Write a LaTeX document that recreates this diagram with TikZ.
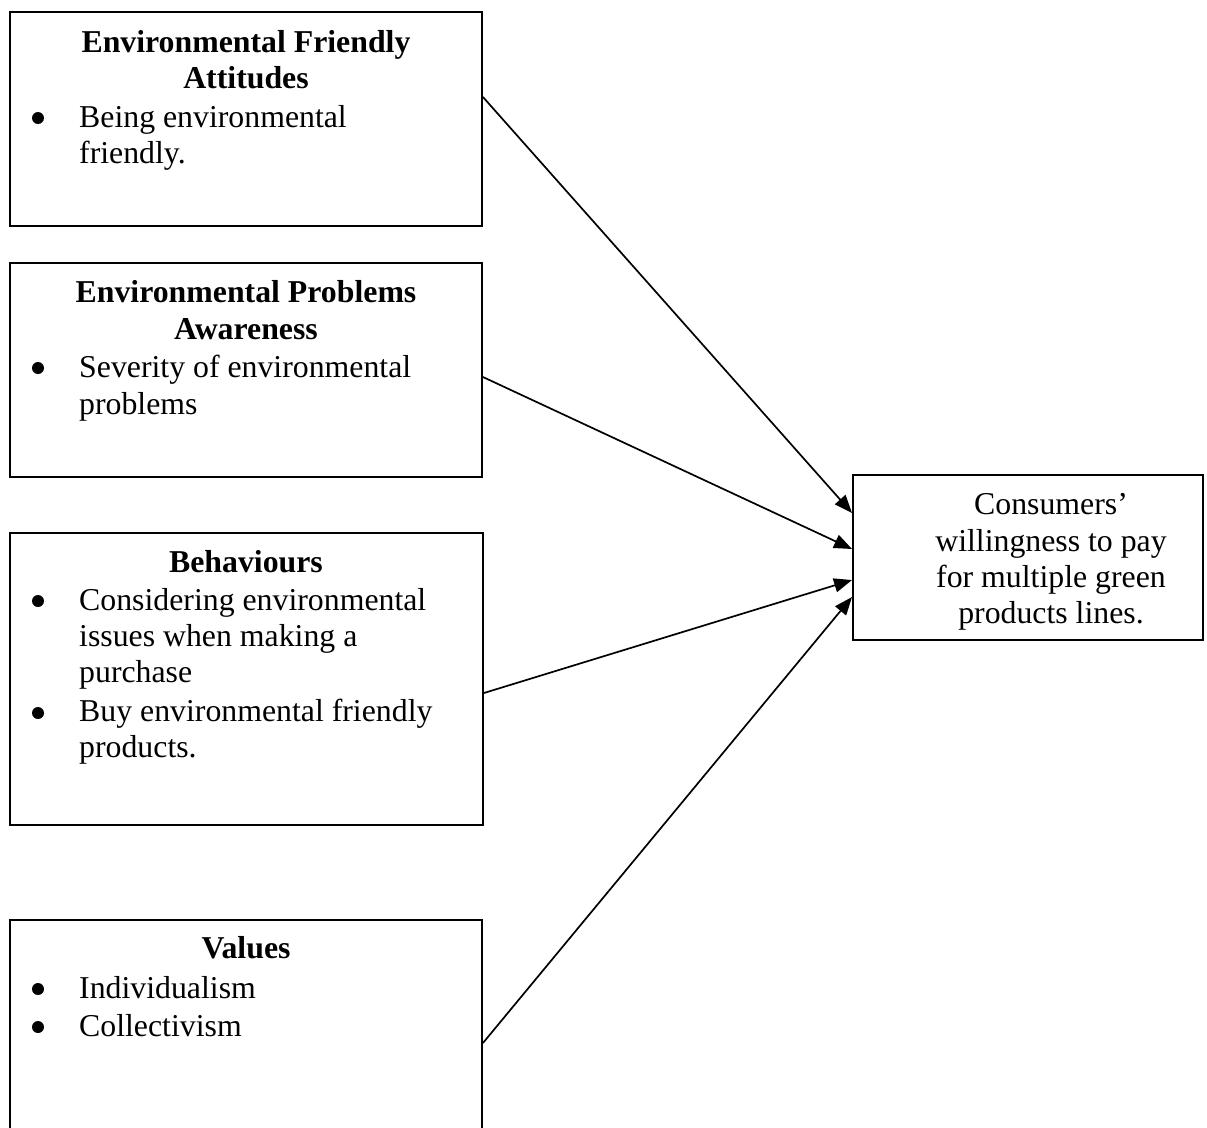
\documentclass[tikz,border=0pt]{standalone}
\usepackage{fontspec}
\setmainfont{Liberation Serif}
\usetikzlibrary{arrows.meta}
\begin{document}
\begin{tikzpicture}[x=1pt,y=-1pt,
  box/.style={draw,line width=1.9pt,rectangle,inner sep=0pt},
  ln/.style={anchor=base west,inner sep=0pt,font=\fontsize{31.8}{36}\selectfont},
  ttl/.style={anchor=base,inner sep=0pt,font=\fontsize{31.8}{36}\selectfont\bfseries},
  ctr/.style={anchor=base,inner sep=0pt,font=\fontsize{31.8}{36}\selectfont},
  bul/.style={anchor=center,circle,fill=black,inner sep=0pt,minimum size=12pt},
  conn/.style={line width=1.7pt,-{Triangle[length=18pt,width=14pt]}}]
\clip (0,0) rectangle (1207,1127);
\fill[white] (0,0) rectangle (1207,1127);

% box 1
\node[box,minimum width=472pt,minimum height=214pt] (b1) at (246,119) {};
\node[ttl] (t1a) at (246,52) {Environmental Friendly};
\node[ttl] (t1b) at (246,88) {Attitudes};
\node[bul] (p1a) at (38,118) {};
\node[ln] (l1a) at (79,127) {Being environmental};
\node[ln] (l1b) at (79,163) {friendly.};

% box 2
\node[box,minimum width=472pt,minimum height=214pt] (b2) at (246,370) {};
\node[ttl] (t2a) at (246,302) {Environmental Problems};
\node[ttl] (t2b) at (246,339) {Awareness};
\node[bul] (p2a) at (38,368) {};
\node[ln] (l2a) at (79,377) {Severity of environmental};
\node[ln] (l2b) at (79,414) {problems};

% box 3
\node[box,minimum width=473pt,minimum height=292pt] (b3) at (246.5,679) {};
\node[ttl] (t3a) at (246,572) {Behaviours};
\node[bul] (p3a) at (38,601) {};
\node[ln] (l3a) at (79,610) {Considering environmental};
\node[ln] (l3b) at (79,646) {issues when making a};
\node[ln] (l3c) at (79,682) {purchase};
\node[bul] (p3b) at (38,713) {};
\node[ln] (l3d) at (79,721) {Buy environmental friendly};
\node[ln] (l3e) at (79,757) {products.};

% box 4 (continues below the picture)
\node[box,minimum width=472pt,minimum height=260pt] (b4) at (246,1050) {};
\node[ttl] (t4a) at (246,958) {Values};
\node[bul] (p4a) at (38,989) {};
\node[ln] (l4a) at (79,998) {Individualism};
\node[bul] (p4b) at (38,1027) {};
\node[ln] (l4b) at (79,1036) {Collectivism};

% right box
\node[box,minimum width=350pt,minimum height=165pt] (r) at (1028,557.5) {};
\node[ctr] (r1) at (1051,514) {Consumers’};
\node[ctr] (r2) at (1051,551) {willingness to pay};
\node[ctr] (r3) at (1051,587) {for multiple green};
\node[ctr] (r4) at (1051,623) {products lines.};

% connector end points
\coordinate (s1) at (b1.east |- 0,97);
\coordinate (s2) at (b2.east |- 0,377);
\coordinate (s3) at (b3.east |- 0,693);
\coordinate (s4) at (b4.east |- 0,1043);
\coordinate (e1) at (r.west |- 0,513);
\coordinate (e2) at (r.west |- 0,549);
\coordinate (e3) at (r.west |- 0,580);
\coordinate (e4) at (r.west |- 0,597);

\draw[conn] (s1) -- (e1);
\draw[conn] (s2) -- (e2);
\draw[conn] (s3) -- (e3);
\draw[conn] (s4) -- (e4);
\end{tikzpicture}
\end{document}
